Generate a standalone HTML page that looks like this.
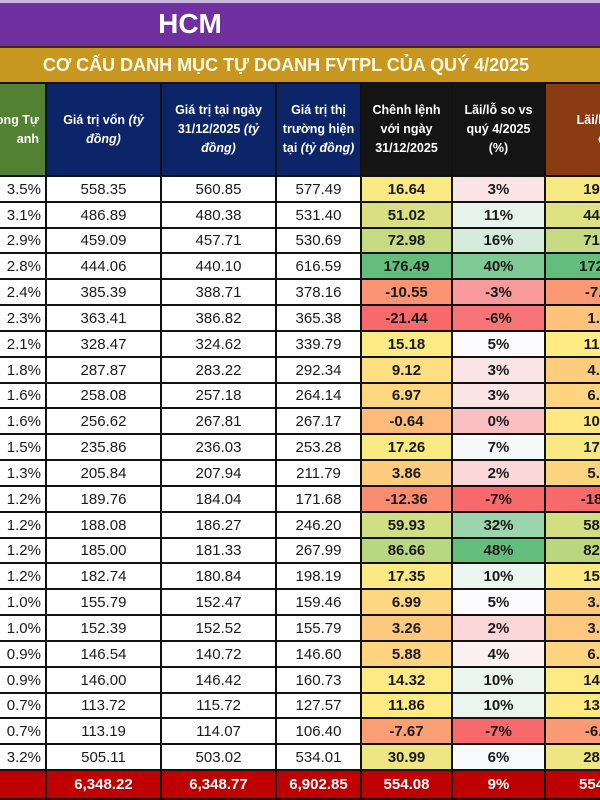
<!DOCTYPE html>
<html><head><meta charset="utf-8"><style>
body{margin:0;width:600px;height:800px;overflow:hidden;background:#fff;font-family:"Liberation Sans","DejaVu Sans",sans-serif;position:relative}
.a{position:absolute;box-sizing:border-box}
.top{left:0;top:0;width:600px;height:46px;background:#7030a0;border-top:3px solid #c9b7dc;color:#fff;font-weight:bold;font-size:28px;text-align:center;line-height:42px}
.gold{left:0;top:46px;width:600px;height:38px;background:#c8971f;border-top:2px solid #3a2a10;border-bottom:2px solid #111;color:#fff8e6;font-weight:bold;font-size:18px;line-height:34px;text-align:center;white-space:nowrap}
.h{top:84px;height:93px;color:#fff;font-weight:bold;font-size:12.5px;line-height:19px;display:flex;align-items:center;justify-content:center;text-align:center;border-right:2px solid #111;border-bottom:2px solid #111;white-space:nowrap}
.c{border-right:2px solid #111;border-bottom:2px solid #111;font-size:15px;display:flex;align-items:center;justify-content:center;color:#1a1a1a;white-space:nowrap;overflow:hidden}
.b{font-weight:bold}
.t{background:#c00000;color:#fff;font-weight:bold}
#tbl{position:absolute;left:0;top:0;width:600px;height:800px;overflow:hidden}
</style></head><body>
<div class="a top"><span style="position:relative;left:-110px">HCM</span></div>
<div class="a gold"><span style="position:relative;left:-14px">CƠ CẤU DANH MỤC TỰ DOANH FVTPL CỦA QUÝ 4/2025</span></div>
<div id="tbl"></div>
<script>
const weights=["3.5%","3.1%","2.9%","2.8%","2.4%","2.3%","2.1%","1.8%","1.6%","1.6%","1.5%","1.3%","1.2%","1.2%","1.2%","1.2%","1.0%","1.0%","0.9%","0.9%","0.7%","0.7%","3.2%"];
const costValues=[558.35,486.89,459.09,444.06,385.39,363.41,328.47,287.87,258.08,256.62,235.86,205.84,189.76,188.08,185.00,182.74,155.79,152.39,146.54,146.00,113.72,113.19,505.11];
const yearEndValues=[560.85,480.38,457.71,440.10,388.71,386.82,324.62,283.22,257.18,267.81,236.03,207.94,184.04,186.27,181.33,180.84,152.47,152.52,140.72,146.42,115.72,114.07,503.02];
const marketValues=[577.49,531.40,530.69,616.59,378.16,365.38,339.79,292.34,264.14,267.17,253.28,211.79,171.68,246.20,267.99,198.19,159.46,155.79,146.60,160.73,127.57,106.40,534.01];
const diffValues=[16.64,51.02,72.98,176.49,-10.55,-21.44,15.18,9.12,6.97,-0.64,17.26,3.86,-12.36,59.93,86.66,17.35,6.99,3.26,5.88,14.32,11.86,-7.67,30.99];
const pctValues=[3,11,16,40,-3,-6,5,3,3,0,7,2,-7,32,48,10,5,2,4,10,10,-7,6];
const pnlValues=[19.14,44.51,71.60,172.53,-7.23,1.97,11.32,4.47,6.06,10.55,17.43,5.95,-18.08,58.12,82.99,15.45,3.67,3.40,6.06,14.73,13.85,-6.79,28.90];
const totals=["6,348.22","6,348.77","6,902.85","554.08","9%","554.63"];
const headers=[["ong Tự<br>anh","#548235"],["Giá trị vốn <i>(tỷ<br>đồng)</i>","#0c2468"],["Giá trị tại ngày<br>31/12/2025 <i>(tỷ<br>đồng)</i>","#0c2468"],["Giá trị thị<br>trường hiện<br>tại <i>(tỷ đồng)</i>","#0c2468"],["Chênh lệnh<br>với ngày<br>31/12/2025","#141414"],["Lãi/lỗ so vs<br>quý 4/2025<br>(%)","#141414"],["Lãi/lỗ so<br>đ","#8a3b12"]];
const colX=[0,47,162,277,362,453,546,660];
const top0=177,rowH=(771-177)/23;
function mix(a,b,t){return 'rgb('+a.map((v,i)=>Math.round(v+(b[i]-v)*t)).join(',')+')';}
function median(a){const s=[...a].sort((x,y)=>x-y);return s[Math.floor(s.length/2)];}
function scale(v,arr,lo,mid,hi){const mn=Math.min(...arr),mx=Math.max(...arr),md=median(arr);
 return v<=md?mix(lo,mid,(v-mn)/(md-mn||1)):mix(mid,hi,(v-md)/(mx-md||1));}
const R=[248,105,107],Y=[255,235,132],G=[99,190,123],W=[252,252,255];
const tbl=document.getElementById('tbl');
function cell(x,y,w,h,html,cls,bg,name){const d=document.createElement('div');d.className='a '+cls;
 d.style.left=x+'px';d.style.top=y+'px';d.style.width=w+'px';d.style.height=h+'px';if(bg)d.style.background=bg;d.innerHTML='<span>'+html+'</span>';
 
 
 tbl.appendChild(d);return d;}
headers.forEach((h,i)=>{const d=cell(colX[i],84,colX[i+1]-colX[i],93,h[0],'h',h[1],'header-col-'+i);if(i==0){d.style.justifyContent='flex-end';d.style.paddingRight='6px';d.style.textAlign='right';}});
const f=v=>v.toFixed(2);
for(let r=0;r<weights.length;r++){
 const y=Math.round(top0+r*rowH),h=Math.round(top0+(r+1)*rowH)-y;
 const d0=cell(0,y,47,h,weights[r],'c','#fff','weight-cell');d0.style.justifyContent='flex-end';d0.style.paddingRight='4px';
 cell(47,y,115,h,f(costValues[r]),'c','#fff','cost-value-cell');
 cell(162,y,115,h,f(yearEndValues[r]),'c','#fff','year-end-value-cell');
 cell(277,y,85,h,f(marketValues[r]),'c','#fff','market-value-cell');
 cell(362,y,91,h,f(diffValues[r]),'c b',scale(diffValues[r],diffValues,R,Y,G),'diff-cell');
 cell(453,y,93,h,pctValues[r]+'%','c b',scale(pctValues[r],pctValues,R,W,G),'pct-cell');
 cell(546,y,114,h,f(pnlValues[r]),'c b',scale(pnlValues[r],pnlValues,R,Y,G),'pnl-cell');
}
const ty=771;
cell(0,ty,47,29,'','c t','','total-label');
totals.forEach((t,i)=>cell(colX[i+1],ty,colX[i+2]-colX[i+1],29,t,'c t','','total-cell-'+i));
</script>
</body></html>
